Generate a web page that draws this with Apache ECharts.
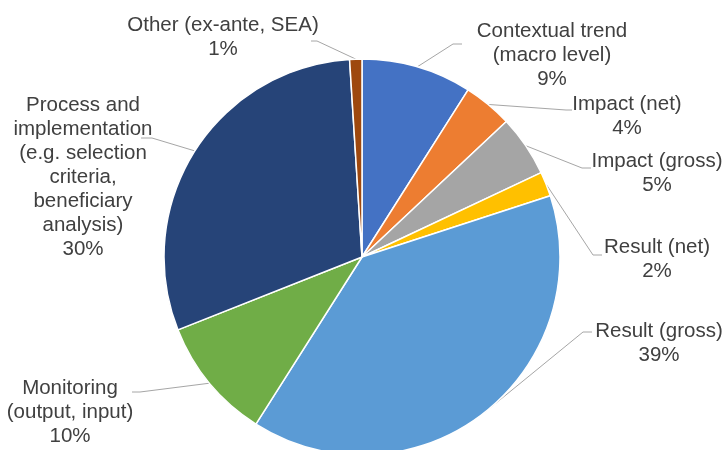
<!DOCTYPE html>
<html>
<head>
<meta charset="utf-8">
<script src="https://cdn.jsdelivr.net/npm/echarts@6/dist/echarts.min.js"></script>
<style>html,body{margin:0;padding:0;background:#fff;}#c{width:724px;height:450px;}</style>
</head>
<body>
<div id="c"></div>
<script>
const categories = [
  'Contextual trend\n(macro level)',
  'Impact (net)',
  'Impact (gross)',
  'Result (net)',
  'Result (gross)',
  'Monitoring\n(output, input)',
  'Process and\nimplementation\n(e.g. selection\ncriteria,\nbeneficiary\nanalysis)',
  'Other (ex-ante, SEA)'
];
const values = [9, 4, 5, 2, 39, 10, 30, 1];
const colors = ['#4472C4', '#ED7D31', '#A5A5A5', '#FFC000', '#5B9BD5', '#70AD47', '#264478', '#9E480E'];
// label block centres (x, y)
const labelPos = [
  [552, 55], [627, 116], [657, 173], [657, 259], [659, 343], [70, 412], [83, 177], [223, 37]
];
// leader-line elbow and end points (next to the label)
const leaderEnds = [
  [[453, 44], [462, 44]],
  [[566, 110], [572, 110]],
  [[582, 168], [591, 168]],
  [[593, 255], [602, 255]],
  [[583, 332], [592, 332]],
  [[140, 392], [132, 392]],
  [[152, 138], [141, 138]],
  [[317, 41], [311, 41]]
];

const chart = echarts.init(document.getElementById('c'), null, {renderer: 'canvas'});
chart.setOption({
  backgroundColor: '#ffffff',
  animation: false,
  series: [{
    type: 'pie',
    center: [362, 257],
    radius: 198,
    startAngle: 90,
    clockwise: true,
    data: categories.map((n, i) => ({name: n, value: values[i], itemStyle: {color: colors[i]}})),
    itemStyle: {borderColor: '#ffffff', borderWidth: 1.5},
    label: {
      show: true,
      formatter: '{b}\n{c}%',
      fontFamily: 'Liberation Sans, Arial, sans-serif',
      fontSize: 20.5,
      lineHeight: 24,
      color: '#404040',
      align: 'center',
      overflow: 'none'
    },
    labelLine: {show: true, length: 10, length2: 10, lineStyle: {color: '#A6A6A6', width: 1}},
    labelLayout: function (p) {
      const pos = labelPos[p.dataIndex];
      const res = {x: pos[0], y: pos[1], align: 'center', verticalAlign: 'middle'};
      if (p.labelLinePoints && p.labelLinePoints.length) {
        const e = leaderEnds[p.dataIndex];
        res.labelLinePoints = [p.labelLinePoints[0], e[0], e[1]];
      }
      return res;
    }
  }]
});
</script>
</body>
</html>
